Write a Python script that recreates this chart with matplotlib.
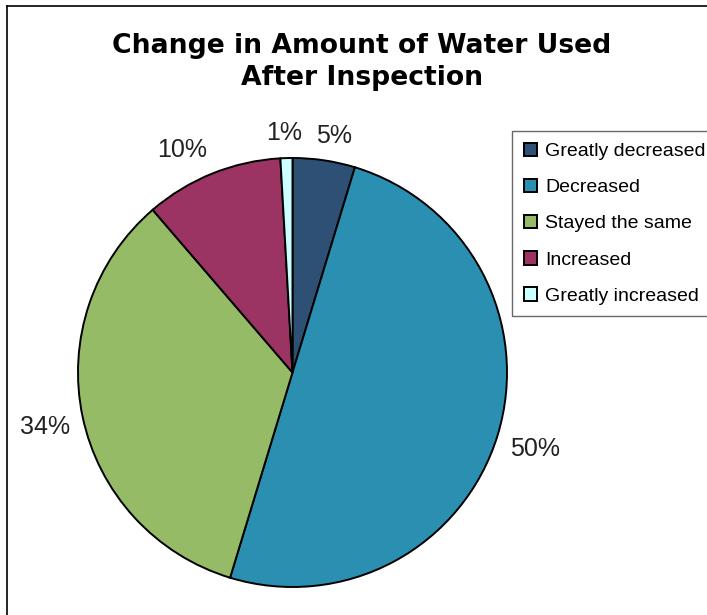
import numpy as np
import matplotlib
matplotlib.use("Agg")
import matplotlib.pyplot as plt
from matplotlib.lines import Line2D

# data (slice sizes estimated from the wedge edges)
categories = ["Greatly decreased", "Decreased", "Stayed the same", "Increased", "Greatly increased"]
shares = [4.7, 50.0, 34.0, 10.4, 0.9]
colors = ["#2E5074", "#2A8FB0", "#96BB67", "#9B3462", "#CCFFFF"]
title = "Change in Amount of Water Used\nAfter Inspection"

W, H = 707, 615
fig = plt.figure(figsize=(W / 100, H / 100), dpi=100)
fig.patch.set_facecolor("white")

# pie axes sized so the circle sits where it does in the picture
cx, cy, r = 292.5, 372.5, 214.5
ax = fig.add_axes([(cx - r) / W, (H - cy - r) / H, 2 * r / W, 2 * r / H])
wedges, _, pct = ax.pie(shares, colors=colors, startangle=90, counterclock=False,
                        autopct="%1.0f%%", pctdistance=1.1,
                        wedgeprops=dict(edgecolor="black", linewidth=1.4),
                        textprops=dict(fontsize=18, family="Liberation Sans", color="#222222"))
ax.set_xlim(-1, 1)
ax.set_ylim(-1, 1)
ax.set_aspect("equal")
ax.axis("off")

# push each percentage label out so its box sits just off the rim (Excel style)
fig.canvas.draw()
rend = fig.canvas.get_renderer()
for w, t in zip(wedges, pct):
    ang = np.deg2rad((w.theta1 + w.theta2) / 2)
    c, s = np.cos(ang), np.sin(ang)
    bb = t.get_window_extent(rend)
    hw, hh = bb.width / 2 / r, bb.height / 2 / r
    fx = np.sign(c) * min(1, abs(c) * 3)
    fy = np.sign(s) * min(1, abs(s) * 3)
    d = 1.06
    t.set_position((d * c + hw * fx, d * s + hh * fy))

fig.text(362 / W, 1 - 62 / H, title, ha="center", va="center", fontsize=19.2,
         fontweight="bold", family="DejaVu Sans", linespacing=1.3)

leg = fig.legend(wedges, categories, loc="upper left",
                 bbox_to_anchor=(512 / W, 1 - 131 / H), frameon=True, fancybox=False,
                 prop=dict(family="Liberation Sans", size=14), handlelength=0.7,
                 handleheight=0.7, handletextpad=0.4, labelspacing=0.95,
                 borderpad=0.6, borderaxespad=0)
leg.get_frame().set_edgecolor("#444444")
leg.get_frame().set_linewidth(1.0)

# outer frame, cut off at right and bottom like the reference
fig.add_artist(Line2D([7 / W, 7 / W], [0, 1 - 6 / H], color="black", lw=1.2))
fig.add_artist(Line2D([7 / W, 1], [1 - 6 / H, 1 - 6 / H], color="black", lw=1.2))

fig.savefig("out.png", dpi=100)
